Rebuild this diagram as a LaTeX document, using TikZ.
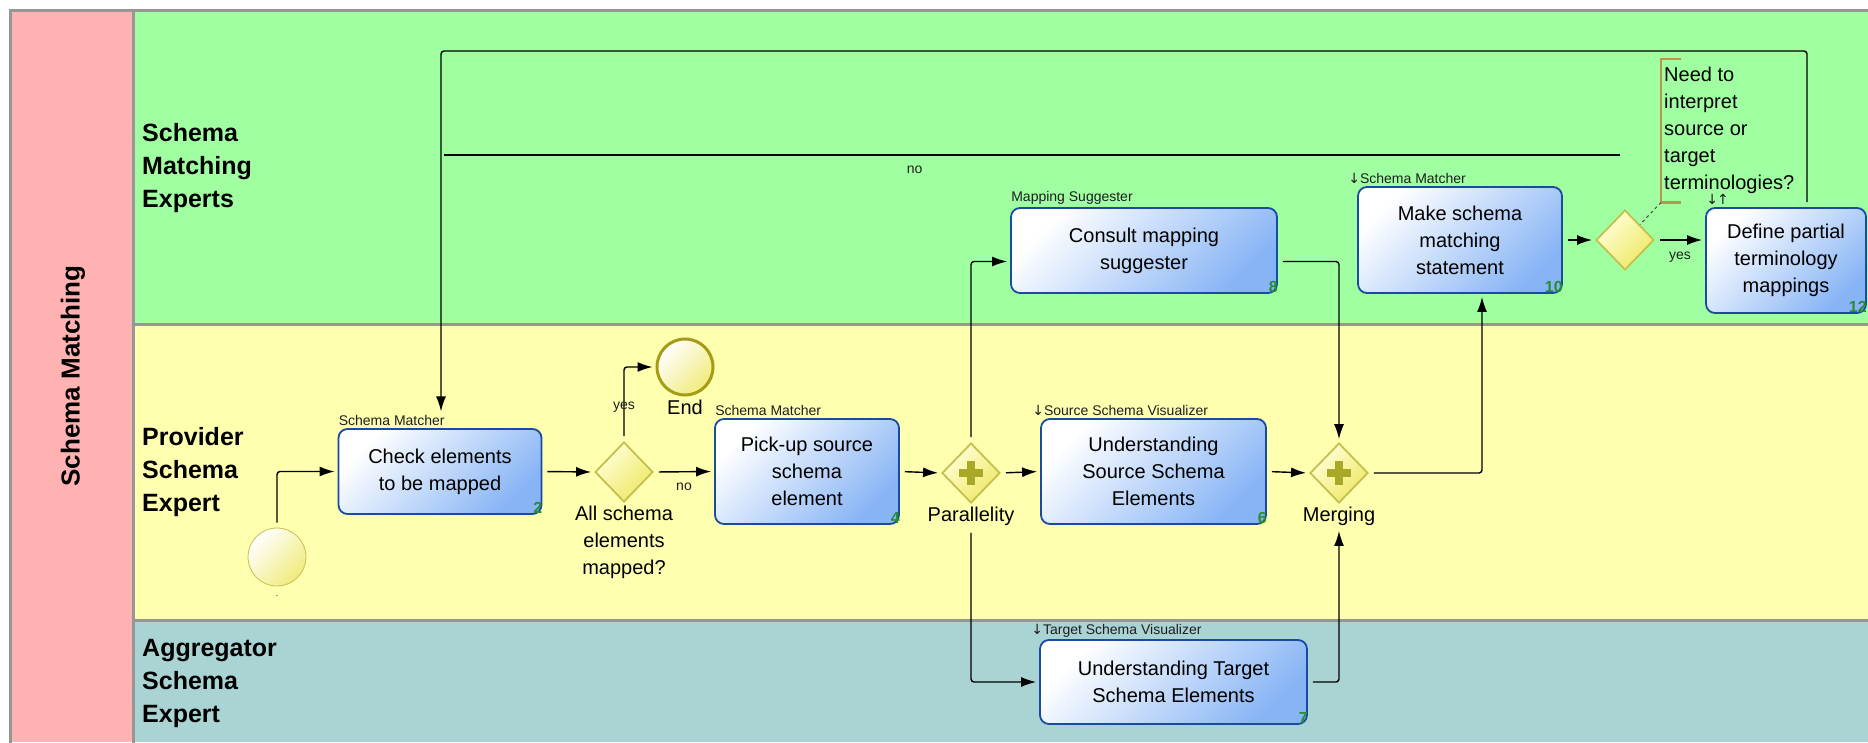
\documentclass[tikz,border=0pt]{standalone}
\usepackage{fontspec}
\setmainfont{Liberation Sans}
\newfontfamily\symfont{DejaVu Sans}
\usetikzlibrary{positioning, shapes.geometric, arrows.meta}

\definecolor{lanepink}{RGB}{255,178,178}
\definecolor{lanegreen}{RGB}{160,255,160}
\definecolor{laneyellow}{RGB}{255,255,176}
\definecolor{laneteal}{RGB}{170,212,212}
\definecolor{lanegray}{RGB}{150,150,150}
\definecolor{taskline}{RGB}{25,75,165}
\definecolor{taskfill}{RGB}{135,180,245}
\definecolor{gatefill}{RGB}{238,232,100}
\definecolor{gateline}{RGB}{196,192,80}
\definecolor{plusfill}{RGB}{170,168,40}
\definecolor{endline}{RGB}{165,155,20}
\definecolor{numgreen}{RGB}{40,140,50}
\definecolor{bracketcol}{RGB}{185,150,75}
\definecolor{rolegray}{RGB}{30,30,30}

\newcommand{\downmark}{{\symfont ↓}}
\newcommand{\upmark}{{\symfont ↑}}

\begin{document}
\begin{tikzpicture}[x=1pt, y=-1pt,
    lane/.style={draw=lanegray, line width=3pt},
    lanetitle/.style={font=\fontsize{25}{33}\selectfont\bfseries, align=left, anchor=west, inner sep=2pt},
    task/.style={rectangle, rounded corners=9pt, draw=taskline, line width=1.8pt,
        left color=white, right color=taskfill, shading angle=45,
        align=center, font=\fontsize{20}{27}\selectfont, inner sep=0pt},
    gate/.style={diamond, draw=gateline, line width=1.8pt,
        left color=laneyellow!50!white, right color=gatefill, shading angle=45,
        minimum width=58pt, minimum height=60pt, inner sep=0pt},
    pargate/.style={gate, path picture={
        \fill[plusfill] ([xshift=-12pt,yshift=-4pt]path picture bounding box.center) rectangle ([xshift=12pt,yshift=4pt]path picture bounding box.center);
        \fill[plusfill] ([xshift=-4pt,yshift=-12pt]path picture bounding box.center) rectangle ([xshift=4pt,yshift=12pt]path picture bounding box.center);}},
    startev/.style={circle, draw=gateline, line width=0.8pt,
        left color=white, right color=gatefill!85, shading angle=45,
        minimum size=58pt, inner sep=0pt},
    endev/.style={startev, draw=endline, line width=3pt, minimum size=56pt},
    gatelbl/.style={font=\fontsize{20}{27}\selectfont, align=center, inner sep=2pt},
    role/.style={font=\fontsize{14}{16}\selectfont, text=rolegray, inner sep=1pt},
    num/.style={font=\fontsize{16}{16}\selectfont\bfseries, text=numgreen, inner sep=1pt, anchor=south east},
    flow/.style={draw, line width=1.4pt, -{Latex[length=15pt,width=10pt]}, rounded corners=3pt,
        shorten >=3pt, shorten <=5pt},
    flowlbl/.style={font=\fontsize{14}{14}\selectfont, text=rolegray, inner sep=1pt},
    annot/.style={font=\fontsize{20}{27}\selectfont, align=left, inner xsep=3pt, inner ysep=0pt},
    bracket/.style={draw=bracketcol, line width=2.2pt}]

    \path[use as bounding box, fill=white] (0,0) rectangle (1868,742);

    % pool and lanes
    \fill[lanepink] (10,10) rectangle (133,742);
    \fill[lanegreen] (133,10) rectangle (1868,324);
    \fill[laneyellow] (133,324) rectangle (1868,620);
    \fill[laneteal] (133,620) rectangle (1868,742);
    \draw[lane] (1870,10) -- (10,10) -- (10,744);
    \draw[lane] (133,10) -- (133,744);
    \draw[lane] (133,324) -- (1870,324);
    \draw[lane] (133,620) -- (1870,620);

    \node[rotate=90, font=\fontsize{26}{30}\selectfont\bfseries] (pool) at (73,376) {Schema Matching};
    \node[lanetitle] (smx) at (140,168) {Schema\\Matching\\Experts};
    \node[lanetitle] (pse) at (140,472) {Provider\\Schema\\Expert};
    \node[lanetitle] (ase) at (140,683) {Aggregator\\Schema\\Expert};

    % events and gateways
    \node[startev] (start) at (277,557) {};
    \node[font=\fontsize{8}{8}\selectfont, below=6pt of start] (startlbl) {.};
    \node[endev] (end) at (685,367) {};
    \node[gatelbl, below=1pt of end] (endlbl) {End};

    \node[gate] (dec1) at (624,472) {};
    \node[gatelbl, below=1pt of dec1] (dec1lbl) {All schema\\elements\\mapped?};
    \node[pargate] (par) at (971,473) {};
    \node[gatelbl, below=1pt of par] (parlbl) {Parallelity};
    \node[pargate] (mrg) at (1339,473) {};
    \node[gatelbl, below=1pt of mrg] (mrglbl) {Merging};
    \node[gate] (dec2) at (1625,240) {};

    % tasks
    \node[task, minimum width=203pt, minimum height=85pt] (chk) at (440,471.5) {Check elements\\to be mapped};
    \node[task, minimum width=184pt, minimum height=105pt] (pick) at (807,471.5) {Pick-up source\\schema\\element};
    \node[task, minimum width=225pt, minimum height=105pt] (src) at (1153.5,471.5) {Understanding\\Source Schema\\Elements};
    \node[task, minimum width=266pt, minimum height=85pt] (cons) at (1144,250.5) {Consult mapping\\suggester};
    \node[task, minimum width=267pt, minimum height=84pt] (tgt) at (1173.5,682) {Understanding Target\\Schema Elements};
    \node[task, minimum width=204pt, minimum height=106pt] (make) at (1460,240) {Make schema\\matching\\statement};
    \node[task, minimum width=160pt, minimum height=105pt] (def) at (1786,260.5) {Define partial\\terminology\\mappings};

    \node[role, above right=1pt and 0pt of chk.north west] (chkrole) {Schema Matcher};
    \node[role, above right=1pt and 0pt of pick.north west] (pickrole) {Schema Matcher};
    \node[role, above right=1pt and -9pt of src.north west] (srcrole) {\downmark Source Schema Visualizer};
    \node[role, above right=1pt and 0pt of cons.north west] (consrole) {Mapping Suggester};
    \node[role, above right=1pt and -9pt of tgt.north west] (tgtrole) {\downmark Target Schema Visualizer};
    \node[role, above right=1pt and -10pt of make.north west] (makerole) {\downmark Schema Matcher};
    \node[role, above right=1pt and 0pt of def.north west] (defrole) {\downmark\kern-1pt\upmark};

    \foreach \t/\n in {chk/2, pick/4, src/6, tgt/7, cons/8, make/10, def/12}
        \node[num] at ([xshift=1pt]\t.south east) {\n};

    % annotation
    \node[annot, anchor=north west, minimum height=143pt] (note) at (1661,59) {Need to\\interpret\\source or\\target\\terminologies?};
    \draw[bracket] ([xshift=20pt]note.north west) -- (note.north west) -- (note.south west) -- ([xshift=20pt]note.south west);
    \draw[dashed, line width=1pt, draw=black!70] (note.south west) -- (dec2.north east);

    % sequence flows
    \draw[flow] (start.north) |- (chk.west);
    \draw[flow] (chk.east) -- (dec1.west);
    \draw[flow] (dec1.north) |- node[flowlbl, pos=0.23] {yes} (end.west);
    \draw[flow] (dec1.east) -- node[flowlbl, below=10pt] {no} (pick.west);
    \draw[flow] (pick.east) -- (par.west);
    \draw[flow] (par.east) -- (src.west);
    \draw[flow] (src.east) -- (mrg.west);
    \draw[flow] (par.north) |- ([yshift=-11pt]cons.west);
    \draw[flow] (parlbl.south) |- (tgt.west);
    \draw[flow] ([yshift=-11pt]cons.east) -| (mrg.north);
    \draw[flow] (tgt.east) -| (mrglbl.south);
    \draw[flow] (mrg.east) -| ([xshift=22pt]make.south);
    \draw[flow] (make.east) -- (dec2.west);
    \draw[flow] (dec2.east) -- node[flowlbl, below=10pt] {yes} (dec2.east -| def.west);

    \coordinate (loop) at (441,51);
    \draw[flow] ([xshift=21pt]def.north) |- (loop) -- (loop |- chkrole.north);
    \coordinate (noend) at ([yshift=54pt]dec2.north);
    \draw[flow, -] (noend) -- node[flowlbl, pos=0.6, below=9pt] {no} (noend -| loop);
\end{tikzpicture}
\end{document}
